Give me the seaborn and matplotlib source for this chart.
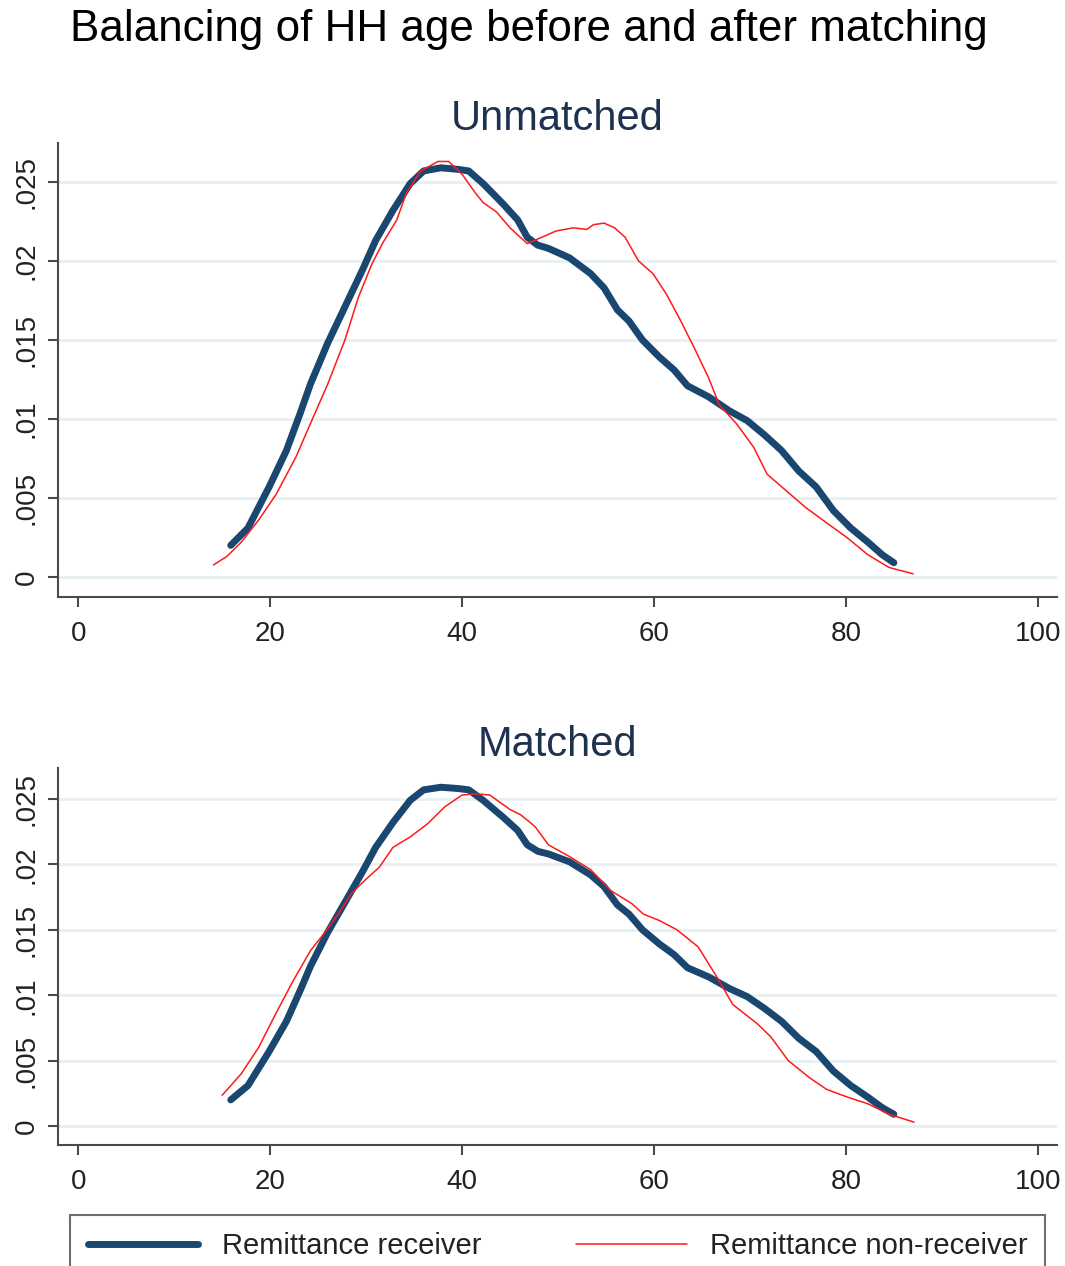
import matplotlib
matplotlib.use("Agg")
import matplotlib.pyplot as plt
import seaborn as sns
import pandas as pd
from matplotlib.lines import Line2D

# ---- data ----
age_recv = [15.9, 17.7, 19.9, 21.7, 23.1, 24.2, 26.0, 27.8, 29.6, 31.0, 32.8, 34.6, 36.0, 37.8,
            39.6, 40.7, 42.2, 44.3, 45.8, 46.8, 47.9, 49.0, 51.2, 53.4, 54.8, 56.2, 57.4, 58.8,
            60.6, 62.1, 63.5, 65.7, 67.9, 69.7, 71.5, 73.3, 75.1, 76.9, 78.7, 80.5, 82.3, 83.8, 85.0]
dens_recv = [.0020, .0031, .0057, .0080, .0103, .0122, .0148, .0171, .0194, .0213, .0232, .0249,
             .0257, .0259, .0258, .0257, .0249, .0236, .0226, .0215, .0210, .0208, .0202, .0192,
             .0183, .0169, .0162, .0150, .0139, .0131, .0121, .0114, .0105, .0099, .0090, .0080,
             .0067, .0057, .0042, .0031, .0022, .0014, .0009]

age_nonrecv_unmatched = [14.1, 15.5, 17.0, 18.8, 20.6, 22.7, 24.2, 26.0, 27.8, 29.2, 30.6, 31.7,
                         33.2, 34.2, 35.7, 37.5, 38.6, 40.0, 41.4, 42.2, 43.6, 45.0, 46.8, 48.3,
                         49.8, 51.6, 53.0, 53.7, 54.8, 55.9, 57.0, 58.4, 59.9, 61.3, 62.8, 64.2,
                         65.7, 66.8, 68.6, 70.4, 71.8, 73.7, 75.8, 77.6, 80.1, 82.3, 84.5, 87.0]
dens_nonrecv_unmatched = [.00076, .0013, .0022, .0036, .0052, .0076, .0097, .0122, .0150, .0177,
                          .0198, .0211, .0226, .0243, .0257, .0263, .0263, .0255, .0243, .0237,
                          .0231, .0221, .0211, .0215, .0219, .0221, .0220, .0223, .0224, .0221,
                          .0215, .0200, .0192, .0179, .0162, .0145, .0126, .0109, .0097, .0082,
                          .0065, .0055, .0044, .0036, .0025, .0014, .0006, .0002]

age_nonrecv_matched = [15.0, 17.0, 18.8, 20.6, 22.4, 24.2, 25.6, 27.1, 28.5, 29.9, 31.4, 32.8,
                       34.6, 36.4, 38.2, 40.0, 41.4, 42.9, 45.0, 46.1, 47.6, 49.0, 51.2, 53.4,
                       55.5, 57.7, 58.9, 60.6, 62.4, 64.6, 65.7, 66.8, 68.2, 70.8, 72.2, 74.0,
                       76.2, 78.0, 80.2, 82.3, 84.5, 87.1]
dens_nonrecv_matched = [.00235, .0040, .0060, .0086, .0111, .0134, .0147, .0162, .0178, .0188,
                        .0198, .0213, .0221, .0231, .0244, .0253, .0254, .0253, .0242, .0238,
                        .0229, .0215, .0206, .0196, .0180, .0170, .0162, .0157, .0150, .0137,
                        .0124, .0111, .0093, .0078, .0068, .0050, .0037, .0028, .0022, .0017,
                        .0009, .0003]

x_ticks = [0, 20, 40, 60, 80, 100]
y_ticks = [0, .005, .01, .015, .02, .025]
y_tick_labels = ["0", ".005", ".01", ".015", ".02", ".025"]
panel_titles = ["Unmatched", "Matched"]
series_labels = ["Remittance receiver", "Remittance non-receiver"]
main_title = "Balancing of HH age before and after matching"

# ---- style ----
sns.set_theme(style="white")
plt.rcParams["font.family"] = ["Liberation Sans", "DejaVu Sans"]

NAVY = "#1a476f"
RED = "#ff1a1a"
GRID = "#e8f0f2"
AXC = "#4a4a4a"
TXT = "#222222"

W, H = 1065, 1266
fig = plt.figure(figsize=(W / 100, H / 100), dpi=100)
fig.patch.set_facecolor("white")

def fx(px):
    return px / W

def fy(py):
    return 1 - py / H

# axes boxes in pixel terms: (left, top, right, bottom)
boxes = [(58, 143, 1057, 597), (58, 768, 1057, 1145)]
ylims = [(-0.00127, 0.02747), (-0.00145, 0.02737)]
nonrecv = [(age_nonrecv_unmatched, dens_nonrecv_unmatched),
           (age_nonrecv_matched, dens_nonrecv_matched)]

df_recv = pd.DataFrame({"age": age_recv, "density": dens_recv})

for i, (l, t, r, b) in enumerate(boxes):
    ax = fig.add_axes([fx(l), fy(b), fx(r - l), (b - t) / H])
    ax.set_facecolor("white")
    for yv in y_ticks:
        ax.axhline(yv, color=GRID, lw=2.0, zorder=0)
    df_nr = pd.DataFrame({"age": nonrecv[i][0], "density": nonrecv[i][1]})
    sns.lineplot(data=df_recv, x="age", y="density", ax=ax, color=NAVY, lw=5.0,
                 estimator=None, solid_capstyle="round", solid_joinstyle="round", zorder=3)
    sns.lineplot(data=df_nr, x="age", y="density", ax=ax, color=RED, lw=1.1,
                 estimator=None, zorder=4)
    ax.set_xlim(-2.1, 102)
    ax.set_ylim(*ylims[i])
    ax.set_xticks(x_ticks)
    ax.set_xticklabels([str(v) for v in x_ticks])
    ax.set_yticks(y_ticks)
    ax.set_yticklabels(y_tick_labels, rotation=90, va="center")
    ax.set_xlabel("")
    ax.set_ylabel("")
    for s in ["top", "right"]:
        ax.spines[s].set_visible(False)
    for s in ["left", "bottom"]:
        ax.spines[s].set_color(AXC)
        ax.spines[s].set_linewidth(1.5)
    ax.tick_params(axis="both", direction="out", length=7, width=1.5, color=AXC,
                   labelsize=20, labelcolor=TXT, left=True, bottom=True)
    ax.tick_params(axis="x", pad=10)
    ax.tick_params(axis="y", pad=6)
    ax.set_title(panel_titles[i], fontsize=30, color="#1e3250", pad=9)
    ax.grid(False)

fig.text(fx(70), fy(29), main_title, fontsize=31.7, color="black", ha="left", va="center")

handles = [Line2D([], [], color=NAVY, lw=5.0), Line2D([], [], color=RED, lw=1.1)]
leg = fig.legend(handles, series_labels, loc="upper left", ncol=2, mode="expand",
                 bbox_to_anchor=(fx(70), fy(1215), fx(1045 - 70), 0.0),
                 fontsize=21, frameon=True, fancybox=False, borderpad=0.6,
                 handlelength=3.8, handletextpad=0.8, columnspacing=4.0,
                 borderaxespad=0.0)
leg.get_frame().set_edgecolor(AXC)
leg.get_frame().set_linewidth(1.5)
for t in leg.get_texts():
    t.set_color(TXT)

fig.savefig("out.png", dpi=100, facecolor="white")
